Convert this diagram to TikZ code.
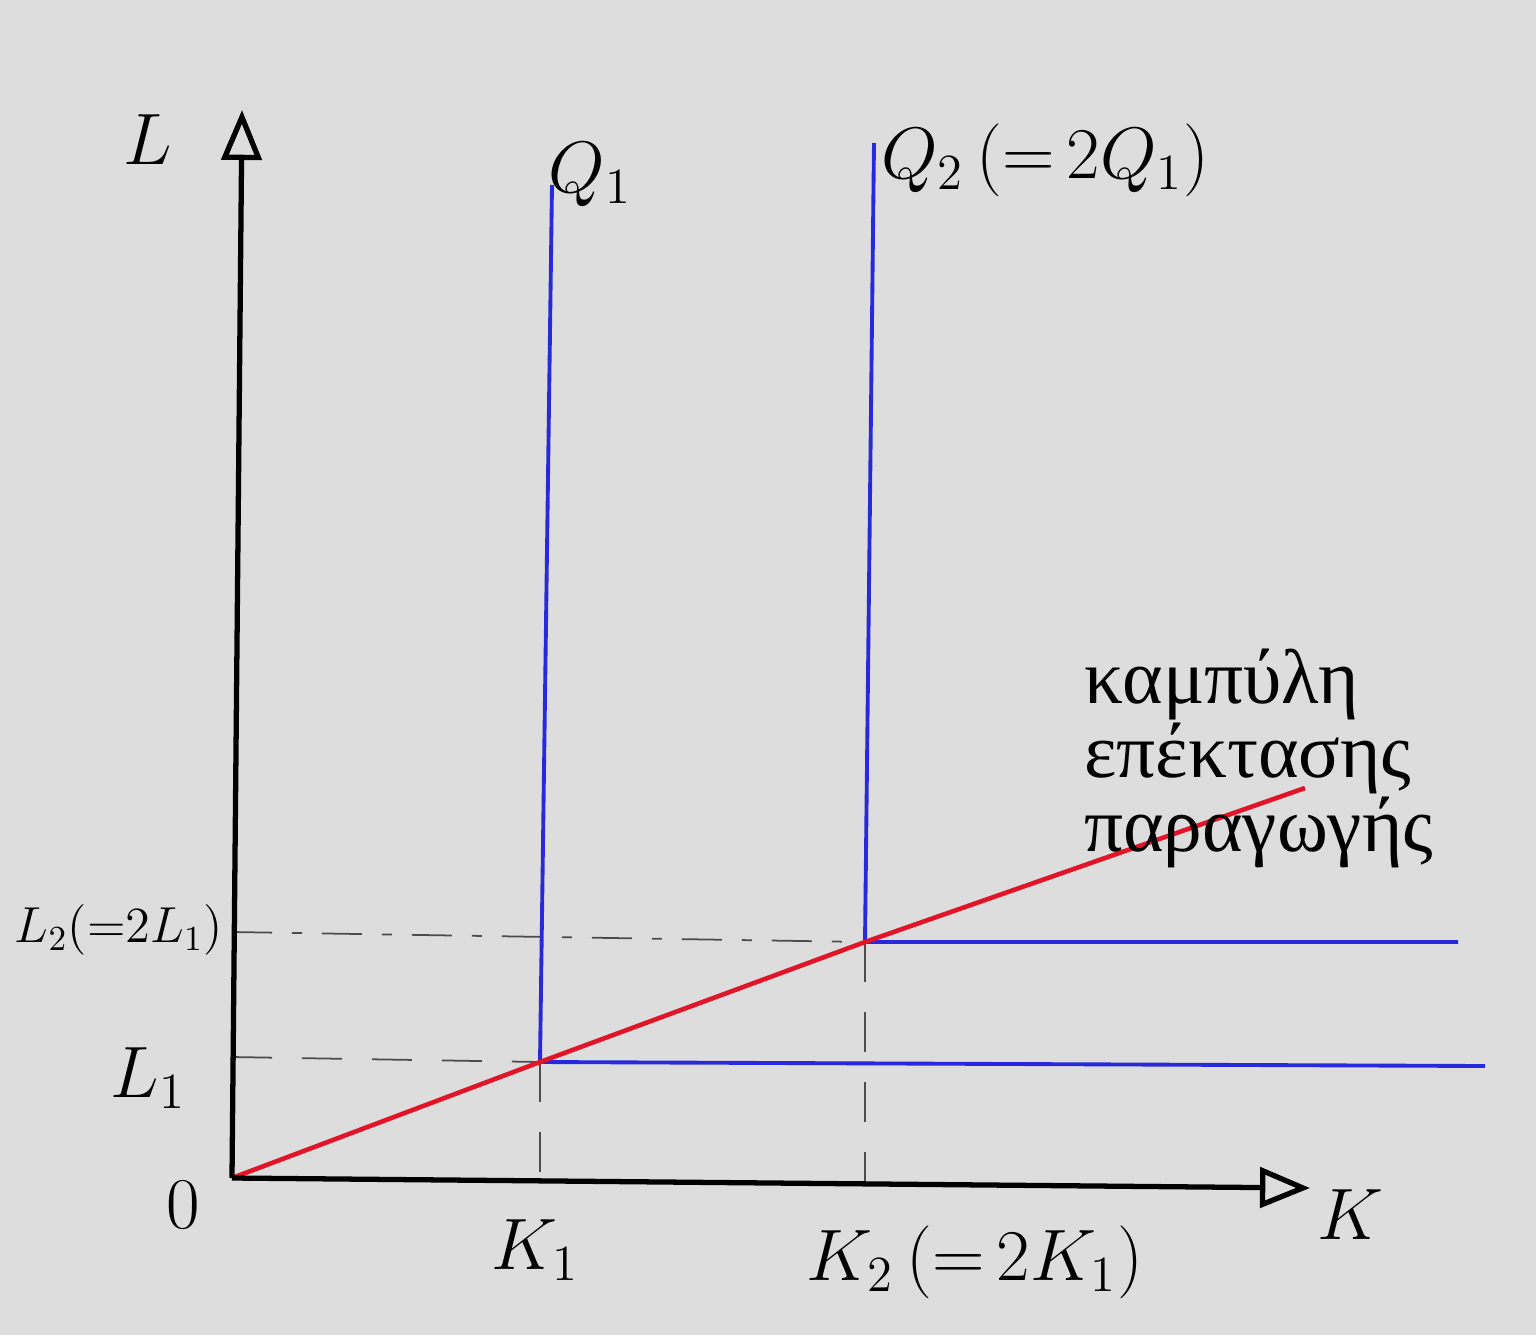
\documentclass[tikz,border=0pt]{standalone}
\usepackage{fontspec}
\setmainfont{Liberation Serif}
\usetikzlibrary{positioning,arrows.meta}
\definecolor{paper}{RGB}{221,221,221}
\definecolor{isoblue}{RGB}{40,40,220}
\definecolor{pathred}{RGB}{225,20,40}
\tikzset{axis line/.style={line width=1.5pt,-{Triangle[open,length=5mm,width=4mm]}},
	iso line/.style={isoblue,line width=1.1pt},
	guide line/.style={black!70,line width=0.5pt,dash pattern=on 4mm off 3mm},
	label node/.style={font=\fontsize{20}{22}\selectfont,inner sep=1pt},
}

\begin{document}
\begin{tikzpicture}
		\fill[paper] (0,0) rectangle (15.36,13.35);
		\useasboundingbox (0,0) rectangle (15.36,13.35);
		
		\coordinate (O) at (2.32,1.57);
		\coordinate (Ltip) at (2.42,12.25);
		\coordinate (Ktip) at (13.10,1.47);
		\coordinate (A) at (5.40,2.73);
		\coordinate (B) at (8.65,3.93);
		\coordinate (Atop) at (5.52,11.50);
		\coordinate (Btop) at (8.74,11.92);
		\coordinate (Aend) at (14.85,2.69);
		\coordinate (Bend) at (14.58,3.93);
		\coordinate (Pend) at (13.05,5.47);
		\coordinate (L1a) at (2.32,2.78);
		\coordinate (L2a) at (2.32,4.03);
		\coordinate (K1a) at (5.40,1.52);
		\coordinate (K2a) at (8.65,1.49);
		
		% guides
		\draw[guide line] (L1a) -- (A);
		\draw[guide line,dash pattern=on 4mm off 2mm on 1mm off 2mm] (L2a) -- (B);
		\draw[guide line] (A) -- (K1a);
		\draw[guide line] (B) -- (K2a);
		
		% isoquants
		\draw[iso line] (Atop) -- (A) -- (Aend);
		\draw[iso line] (Btop) -- (B) -- (Bend);
		
		% expansion path
		\draw[pathred,line width=1.3pt] (O) -- (A) -- (B) -- (Pend);
		
		% axes
		\draw[axis line] (O) -- (Ltip);
		\draw[axis line] (O) -- (Ktip);
		
		\node[label node] (Llab) at (1.48,11.95) {$L$};
		\node[label node] (Olab) at (1.83,1.30) {$0$};
		\node[label node] (Klab) at (13.50,1.20) {$K$};
		\node[label node] (K1lab) at (5.35,0.85) {$K_1$};
		\node[label node] (K2lab) at (9.75,0.73) {$K_2\,({=}\,2K_1)$};
		\node[label node] (L1lab) at (1.48,2.57) {$L_1$};
		\node[label node,anchor=east,font=\fontsize{14}{16}\selectfont] (L2lab) at (2.27,4.05) {$L_2({=}2L_1)$};
		\node[label node] (Q1lab) at (5.90,11.60) {$Q_1$};
		\node[label node] (Q2lab) at (10.45,11.75) {$Q_2\,({=}\,2Q_1)$};
		\node[label node,align=left,anchor=north west,font=\fontsize{22}{21}\selectfont] (path) at (10.80,6.90) {καμπύλη\\επέκτασης\\παραγωγής};
		
	\end{tikzpicture}
\end{document}
